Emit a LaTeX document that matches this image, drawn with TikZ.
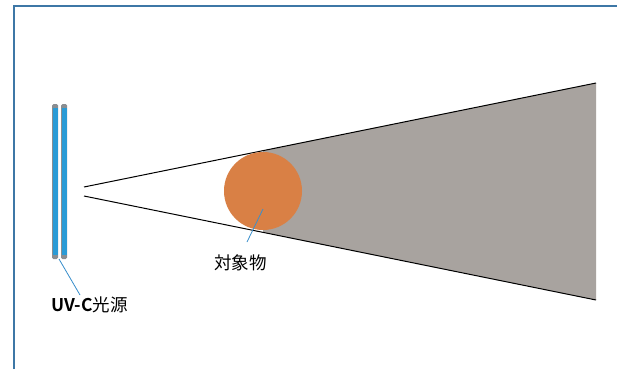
\documentclass[tikz,border=0pt]{standalone}
\usepackage{fontspec}
\setmainfont{Noto Sans CJK JP}
\newfontfamily\jpbold{Noto Sans CJK JP Bold}
\definecolor{framec}{HTML}{3D77A6}
\definecolor{tubec}{HTML}{2A9BD6}
\definecolor{tubeend}{HTML}{8A8E92}
\definecolor{objc}{HTML}{D98045}
\definecolor{shadowc}{HTML}{A8A39F}
\definecolor{leadc}{HTML}{3A8FCC}
\begin{document}
\begin{tikzpicture}[x=1pt,y=-1pt,
  tubeshape/.style={fill=tubeend,rounded corners=1.5pt},
  tubecore/.style={fill=tubec},
  leader/.style={draw=leadc,line width=0.8pt},
  beam/.style={draw=black,line width=1pt},
  lbl/.style={font=\fontsize{17.5}{20}\selectfont,inner sep=0pt,anchor=west}]
\useasboundingbox (0,0) rectangle (617,369);
\fill[white] (0,0) rectangle (617,369);
% frame
\draw[framec,line width=2.8pt] (14,369) -- (14,6) -- (617,6);
% shadow
\coordinate (src1) at (84,187);
\coordinate (src2) at (84,196);
\coordinate (far1) at (596,83);
\coordinate (far2) at (596,300);
\fill[shadowc] (263,150.6) -- (far1) -- (far2) -- (263,232.4) -- cycle;
\draw[beam] (src1) -- (far1);
\draw[beam] (src2) -- (far2);
% object
\node[circle,fill=objc,minimum size=78pt,inner sep=0pt] (obj) at (263,191) {};
% tubes
\fill[tubeshape] (52,104) rectangle (58,259);
\fill[tubecore] (52.5,108) rectangle (57.5,255);
\fill[tubeshape] (61,104) rectangle (67,259);
\fill[tubecore] (61.5,108) rectangle (66.5,255);
\coordinate (tubebot) at (59,259);
% labels
\node[lbl] (uvlbl) at (51,305) {{\jpbold UV-C}光源};
\node[lbl] (objlbl) at (214,263) {対象物};
\coordinate (objpt) at (263,209);
\draw[leader] (objpt) -- (247,242);
\draw[leader] (tubebot) -- (80,295);
\end{tikzpicture}
\end{document}
